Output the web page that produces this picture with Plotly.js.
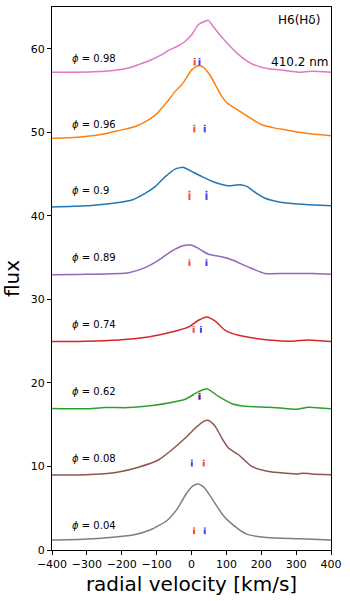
<!DOCTYPE html>
<html>
<head>
<meta charset="utf-8">
<script src="https://cdn.plot.ly/plotly-3.0.1.min.js"></script>
<style>html,body{margin:0;padding:0;background:#fff;}#chart{width:350px;height:601px;}</style>
</head>
<body>
<div id="chart"></div>
<script>
// Spectra (radial velocity km/s, flux with offsets)
const phases = ["0.04", "0.08", "0.62", "0.74", "0.89", "0.9", "0.96", "0.98"];
const colors = ["#7f7f7f", "#8c564b", "#2ca02c", "#d62728", "#9467bd", "#1f77b4", "#ff7f0e", "#e377c2"];

const vGray = [-400,-310,-234,-168,-119,-71,-43,-14,5,19,38,61,90,119,158,215,311,400];
const fGray = [1.2,1.3,1.5,1.8,2.4,3.5,4.8,6.8,7.7,7.9,7.4,6.0,4.2,3.0,1.9,1.5,1.35,1.2];

const vBrown = [-400,-304,-209,-152,-94,-56,-18,11,35,49,68,87,106,135,173,221,268,306,320,345,400];
const fBrown = [8.98,9.0,9.34,9.9,10.8,12.0,13.4,14.6,15.4,15.5,14.8,13.4,12.2,11.4,10.0,9.4,9.2,9.1,9.2,9.1,9.0];

const vGreen = [-400,-304,-247,-180,-113,-66,-18,20,44,77,116,154,221,268,302,335,400];
const fGreen = [16.93,16.9,17.05,17.05,17.3,17.6,18.05,18.95,19.3,18.4,17.5,17.2,17.1,16.95,16.85,17.1,16.9];

const vRed = [-400,-304,-209,-152,-94,-37,-8,20,44,68,97,135,173,221,288,335,400];
const fRed = [24.95,25.0,25.15,25.35,25.75,26.3,26.7,27.5,27.9,27.4,26.3,25.7,25.4,25.15,25.0,25.15,24.95];

const vPurple = [-400,-304,-180,-133,-94,-56,-27,-3,20,35,49,87,125,150,173,211,268,345,400];
const fPurple = [32.95,33.0,33.2,33.8,34.7,35.8,36.4,36.5,36.1,35.7,35.4,35.1,34.6,34.1,33.7,33.1,33.1,33.1,33.0];

const vBlue = [-400,-304,-250,-209,-171,-133,-104,-75,-47,-23,1,30,68,106,130,144,160,173,190,211,235,259,316,400];
const fBlue = [41.05,41.2,41.4,41.6,41.9,42.7,43.5,44.7,45.6,45.8,45.3,44.7,44.0,43.6,43.7,43.7,43.5,43.1,42.6,42.1,41.8,41.6,41.4,41.2];

const vOrange = [-400,-350,-304,-250,-209,-161,-123,-100,-85,-65,-47,-30,-18,1,20,34,45,58,72,87,100,116,135,154,180,202,240,268,310,345,400];
const fOrange = [49.3,49.35,49.5,49.8,50.2,50.7,51.5,52.2,52.9,53.9,54.9,55.6,56.3,57.5,58.0,57.8,57.3,56.5,55.4,54.3,53.6,53.1,52.6,52.1,51.4,50.9,50.5,50.3,50.0,49.8,49.6];

const vPink = [-400,-340,-280,-240,-209,-180,-152,-120,-85,-66,-40,-18,1,20,39,49,58,77,106,135,173,221,268,306,345,400];
const fPink = [57.2,57.2,57.25,57.35,57.5,57.7,58.1,58.6,59.3,59.8,60.3,60.9,61.7,62.9,63.3,63.4,62.9,61.9,60.5,59.3,58.2,57.6,57.4,57.2,57.3,57.2];

// Velocity markers per phase (same order as phases)
const redMarkV  = [7, 35, 23, 6, -6, -6, 8, 9];
const blueMarkV = [38, 1, 23, 27, 43, 43, 38, 23];
const markLo = [1.9, 10.0, 18.0, 26.0, 34.0, 41.9, 50.0, 58.0];
const markHi = [2.7, 10.8, 18.8, 26.8, 34.8, 43.0, 50.9, 58.9];

// Phase label heights
const labelY = [2.9, 10.9, 19.0, 27.0, 35.0, 43.0, 50.9, 58.8];
const labelV = -348;

const spectraV = [vGray, vBrown, vGreen, vRed, vPurple, vBlue, vOrange, vPink];
const spectraF = [fGray, fBrown, fGreen, fRed, fPurple, fBlue, fOrange, fPink];

const xTicks = [-400,-300,-200,-100,0,100,200,300,400];
const yTicks = [0,10,20,30,40,50,60];

const traces = [];
for (let i = 0; i < phases.length; i++) {
  traces.push({
    x: spectraV[i], y: spectraF[i], mode: 'lines', type: 'scatter',
    line: {color: colors[i], width: 1.5, shape: 'spline', smoothing: 0.6},
    hoverinfo: 'skip', showlegend: false
  });
}
function markTrace(vs, col) {
  const x = [], y = [];
  for (let i = 0; i < vs.length; i++) {
    const h = markHi[i] - markLo[i];
    x.push(vs[i], vs[i], null, vs[i], vs[i], null);
    y.push(markLo[i], markLo[i] + 0.72 * h, null, markLo[i] + 0.82 * h, markHi[i], null);
  }
  return {x, y, mode: 'lines', type: 'scatter', line: {color: col, width: 2},
          hoverinfo: 'skip', showlegend: false, connectgaps: false};
}
traces.push(markTrace(redMarkV, 'rgba(255,0,0,0.75)'));
traces.push(markTrace(blueMarkV, 'rgba(0,0,255,0.75)'));

const annotations = [];
for (let i = 0; i < phases.length; i++) {
  annotations.push({
    x: labelV, y: labelY[i], xref: 'x', yref: 'y', xanchor: 'left', yanchor: 'middle',
    text: '<i>ϕ</i> = ' + phases[i], showarrow: false,
    font: {family: 'DejaVu Sans', size: 10, color: '#000'}
  });
}
annotations.push({x: 309, y: 63.5, xref: 'x', yref: 'y', xanchor: 'center', yanchor: 'middle',
  text: 'H6(Hδ)', showarrow: false, font: {family: 'DejaVu Sans', size: 12, color: '#000'}});
annotations.push({x: 309, y: 58.4, xref: 'x', yref: 'y', xanchor: 'center', yanchor: 'middle',
  text: '410.2 nm', showarrow: false, font: {family: 'DejaVu Sans', size: 12, color: '#000'}});

const layout = {
  width: 350, height: 601,
  margin: {l: 52, r: 19, t: 7, b: 51, pad: 0},
  paper_bgcolor: '#fff', plot_bgcolor: '#fff',
  font: {family: 'DejaVu Sans', color: '#000'},
  xaxis: {
    range: [-400, 400], tickvals: xTicks, ticks: 'outside', ticklen: 4, tickwidth: 1,
    tickcolor: '#000', showline: true, mirror: true, linecolor: '#000', linewidth: 1,
    showgrid: false, zeroline: false, tickfont: {size: 11, color: '#000'},
    title: {text: 'radial velocity [km/s]', font: {size: 20, color: '#000'}, standoff: 6}
  },
  yaxis: {
    range: [0, 65], tickvals: yTicks, ticks: 'outside', ticklen: 4, tickwidth: 1,
    tickcolor: '#000', showline: true, mirror: true, linecolor: '#000', linewidth: 1,
    showgrid: false, zeroline: false, tickfont: {size: 11, color: '#000'},
    title: {text: 'flux', font: {size: 20, color: '#000'}, standoff: 8}
  },
  annotations: annotations,
  showlegend: false
};
Plotly.newPlot('chart', traces, layout, {staticPlot: true, displayModeBar: false});
</script>
</body>
</html>
